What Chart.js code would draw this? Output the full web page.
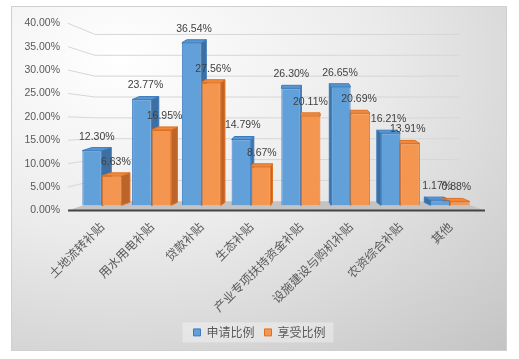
<!DOCTYPE html>
<html>
<head>
<meta charset="utf-8">
<script src="https://cdn.jsdelivr.net/npm/chart.js@4/dist/chart.umd.min.js"></script>
<style>
  html, body { margin: 0; padding: 0; background: #fff; }
  #frame {
    position: absolute; left: 11px; top: 6px; width: 494px; height: 343px;
    border: 1px solid #d0d0d0;
    background: radial-gradient(ellipse 115% 115% at 22% 15%, #ffffff 0%, #ebebeb 45%, #c4c4c4 100%);
  }
  #wrap { position: absolute; left: 0; top: 0; width: 519px; height: 359px; }
</style>
</head>
<body>
<div id="frame"></div>
<div id="wrap"><canvas id="chart" width="519" height="359"></canvas></div>
<script>
/* ---- data ---- */
const categories = ['土地流转补贴', '用水用电补贴', '贷款补贴', '生态补贴',
                    '产业专项扶持资金补贴', '设施建设与购机补贴', '农资综合补贴', '其他'];
const applyRatio = [12.30, 23.77, 36.54, 14.79, 26.30, 26.65, 16.21, 1.17];
const enjoyRatio = [6.63, 16.95, 27.56, 8.67, 20.11, 20.69, 13.91, 0.88];
const yTicks     = [0, 5, 10, 15, 20, 25, 30, 35, 40];

const pct = v => v.toFixed(2) + '%';

/* floor, side wall and back wall gridlines (fake 3D) */
const wallPlugin = {
  id: 'wall3d',
  beforeDatasetsDraw(chart) {
    const { ctx, chartArea: ca } = chart;
    const yL = chart.scales.y, yG = chart.scales.yGrid;
    const x0 = ca.left - 9, x1 = ca.left + 18, x2 = ca.right - 16, x3 = ca.right + 10;
    ctx.save();
    // floor
    ctx.fillStyle = '#c3c3c3';
    ctx.beginPath();
    ctx.moveTo(x0, yL.getPixelForValue(0));
    ctx.lineTo(x3, yL.getPixelForValue(0));
    ctx.lineTo(x2, yG.getPixelForValue(0));
    ctx.lineTo(x1, yG.getPixelForValue(0));
    ctx.closePath();
    ctx.fill();
    // gridlines
    ctx.strokeStyle = '#d6d6d6';
    ctx.lineWidth = 1;
    yTicks.forEach(v => {
      if (v === 0) return;
      ctx.beginPath();
      ctx.moveTo(x0, yL.getPixelForValue(v));
      ctx.lineTo(x1, yG.getPixelForValue(v));
      ctx.lineTo(x2, yG.getPixelForValue(v));
      ctx.stroke();
    });
    // front edge of the floor
    ctx.strokeStyle = '#454545';
    ctx.lineWidth = 2;
    ctx.beginPath();
    ctx.moveTo(x0, yL.getPixelForValue(0));
    ctx.lineTo(x3, yL.getPixelForValue(0));
    ctx.stroke();
    ctx.restore();
  }
};

/* side + top faces of every bar, drawn before the front faces */
const barDepth = (chart, x) => (chart.width * 0.58 - x) * 0.045;

const bar3dPlugin = {
  id: 'bar3d',
  beforeDatasetsDraw(chart) {
    const { ctx } = chart;
    ctx.save();
    ctx.lineWidth = 1;
    chart.data.datasets.forEach((ds, i) => {
      chart.getDatasetMeta(i).data.forEach(bar => {
        const { x, y, base, width } = bar.getProps(['x', 'y', 'base', 'width'], true);
        const l = x - width / 2, r = x + width / 2;
        const dx = barDepth(chart, x), dy = -3;
        const sx = dx > 0 ? r : l;
        ctx.strokeStyle = ds.borderColor;
        // side face
        ctx.fillStyle = ds.sideColor;
        ctx.beginPath();
        ctx.moveTo(sx, y);
        ctx.lineTo(sx + dx, y + dy);
        ctx.lineTo(sx + dx, base + dy);
        ctx.lineTo(sx, base);
        ctx.closePath();
        ctx.fill();
        ctx.stroke();
        // top face
        ctx.fillStyle = ds.topColor;
        ctx.beginPath();
        ctx.moveTo(l, y);
        ctx.lineTo(l + dx, y + dy);
        ctx.lineTo(r + dx, y + dy);
        ctx.lineTo(r, y);
        ctx.closePath();
        ctx.fill();
        ctx.stroke();
      });
    });
    ctx.restore();
  }
};

/* value labels above the bars */
const valueLabelPlugin = {
  id: 'valueLabels',
  afterDatasetsDraw(chart) {
    const { ctx } = chart;
    ctx.save();
    ctx.font = '10.5px "Liberation Sans", Arial, sans-serif';
    ctx.fillStyle = '#404040';
    ctx.textAlign = 'center';
    ctx.textBaseline = 'middle';
    chart.data.datasets.forEach((ds, i) => {
      chart.getDatasetMeta(i).data.forEach((bar, j) => {
        const dx = barDepth(chart, bar.x);
        ctx.fillText(pct(ds.data[j]), bar.x + dx / 2, bar.y - 14);
      });
    });
    ctx.restore();
  }
};

/* soft box behind the legend */
const legendBoxPlugin = {
  id: 'legendBox',
  beforeDraw(chart) {
    const lg = chart.legend;
    if (!lg || !lg.legendHitBoxes.length) return;
    const hb = lg.legendHitBoxes;
    const left = Math.min(...hb.map(h => h.left)) - 11;
    const right = Math.max(...hb.map(h => h.left + h.width)) + 8;
    const top = Math.min(...hb.map(h => h.top)) - 4;
    const bottom = Math.max(...hb.map(h => h.top + h.height)) + 4;
    const { ctx } = chart;
    ctx.save();
    ctx.fillStyle = 'rgba(255,255,255,0.35)';
    ctx.fillRect(left, top, right - left, bottom - top);
    ctx.restore();
  }
};

const ctx = document.getElementById('chart').getContext('2d');
new Chart(ctx, {
  type: 'bar',
  data: {
    labels: categories,
    datasets: [
      { label: '申请比例', data: applyRatio, yAxisID: 'yBar',
        backgroundColor: '#62a0da', borderColor: '#3a7bbf', borderWidth: 1,
        sideColor: '#3f6f9f', topColor: '#5a96cf',
        categoryPercentage: 0.785, barPercentage: 1 },
      { label: '享受比例', data: enjoyRatio, yAxisID: 'yBar',
        backgroundColor: '#f4964f', borderColor: '#e0701f', borderWidth: 1,
        sideColor: '#bf6429', topColor: '#ee8a40',
        categoryPercentage: 0.785, barPercentage: 1 },
    ],
  },
  options: {
    responsive: false,
    animation: false,
    devicePixelRatio: 1,
    layout: { padding: { left: 0, right: 0, top: 23, bottom: 10.6 } },
    plugins: {
      legend: {
        position: 'bottom',
        labels: {
          boxWidth: 7, boxHeight: 7, padding: 10,
          color: '#595959',
          font: { family: '"Noto Sans CJK SC", sans-serif', size: 12 },
        },
      },
      tooltip: { enabled: false },
    },
    scales: {
      x: {
        grid: { display: false, drawTicks: false },
        border: { display: false },
        ticks: {
          minRotation: 45, maxRotation: 45, autoSkip: false, padding: 9,
          color: '#595959',
          font: { family: '"Noto Sans CJK SC", sans-serif', size: 12 },
        },
        afterFit: s => { s.height = 106; },
      },
      y: {
        min: 0, max: 40,
        grid: { display: false, drawTicks: false },
        border: { display: false },
        afterBuildTicks: s => { s.ticks = yTicks.map(v => ({ value: v })); },
        ticks: {
          padding: 17,
          color: '#595959',
          font: { family: '"Liberation Sans", Arial, sans-serif', size: 10.5 },
          callback: v => pct(v),
        },
        afterFit: s => { s.width = 77; },
      },
      // empty right-hand axis that only reserves the space on the right
      yRight: {
        position: 'right', min: 0, max: 40,
        grid: { display: false, drawTicks: false },
        border: { display: false },
        ticks: { display: false },
        afterFit: s => { s.width = 44; },
      },
      yBar:  { display: false, min: -1.136, max: 40.91 },
      yGrid: { display: false, min: -2.18,  max: 42.67 },
    },
  },
  plugins: [legendBoxPlugin, wallPlugin, bar3dPlugin, valueLabelPlugin],
});
</script>
</body>
</html>
